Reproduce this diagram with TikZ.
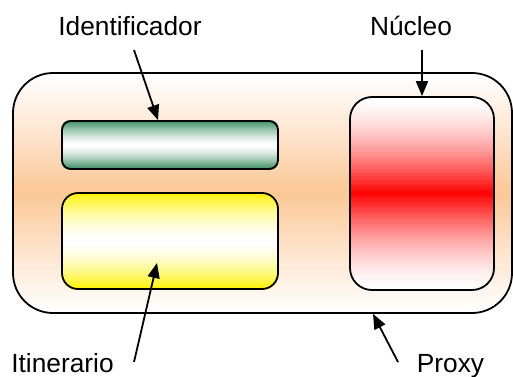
\documentclass[tikz,border=0pt]{standalone}
\usepackage{fontspec}
\setmainfont{Liberation Sans}
\usetikzlibrary{arrows.meta, calc, backgrounds}

\definecolor{peach}{RGB}{251,199,150}
\definecolor{seagreen}{RGB}{52,138,94}

% horizontal bands inside a rounded node: #3 mixed into #4 by weight #5 (0..100, of \tpos)
\newcommand{\bandfill}[5]{%
  \begin{scope}
    \clip[rounded corners=#2] (#1.south west) rectangle (#1.north east);
    \foreach \i in {0,...,79} {
      \pgfmathsetmacro\tpos{abs(2*(\i+0.5)/80-1)}
      \pgfmathsetmacro\wmix{#5}
      \fill[#3!\wmix!#4] ($(#1.south west)!{\i/80}!(#1.north west)$)
        rectangle ($(#1.south east)!{(\i+1.3)/80}!(#1.north east)$);
    }
  \end{scope}}

\begin{document}
\begin{tikzpicture}[x=1pt, y=1pt,
    every node/.style={font=\fontsize{26.3}{30}\selectfont},
    panel/.style={draw=black, line width=1.8pt, inner sep=0pt},
    pointer/.style={-{Triangle[length=15pt, width=12pt]}, line width=1.8pt}]
    \useasboundingbox (0,0) rectangle (513,376);

    % Proxy envelope and its parts
    \node[panel, rounded corners=40pt, minimum width=499pt, minimum height=240pt] (proxy) at (262.5,183) {};
    \node[panel, rounded corners=9pt, minimum width=216pt, minimum height=48pt] (idbar) at (170,231) {};
    \node[panel, rounded corners=16pt, minimum width=216pt, minimum height=96pt] (itbar) at (170,135) {};
    \node[panel, rounded corners=22pt, minimum width=144pt, minimum height=193pt] (core) at (422,182.5) {};

    % Gradient fills
    \begin{scope}[on background layer]
        \bandfill{proxy}{40pt}{peach}{white}{100*(1-\tpos)^1.1}
        \bandfill{idbar}{9pt}{seagreen}{white}{100*\tpos^1.4}
        \bandfill{itbar}{16pt}{yellow}{white}{100*\tpos^1.6}
        \bandfill{core}{22pt}{red}{white}{100*(1-\tpos)^1.6}
    \end{scope}

    % Labels
    \node[anchor=base] (lblid) at (130,341) {Identificador};
    \node[anchor=base] (lblcore) at (411,341) {Núcleo};
    \node[anchor=base] (lblit) at (62.5,4) {Itinerario};
    \node[anchor=base] (lblproxy) at (450.5,4) {Proxy};

    % Arrow tails
    \coordinate (idtail) at (134,326);
    \coordinate (coretail) at (422,326);
    \coordinate (ittail) at (134,14);
    \coordinate (proxytail) at (398,14);

    \draw[pointer] (idtail) -- ([xshift=-12pt]idbar.north);
    \draw[pointer] (coretail) -- (core.north);
    \draw[pointer] (ittail) -- ([shift={(-13pt,-22pt)}]itbar.center);
    \draw[pointer] (proxytail) -- ([xshift=110.5pt]proxy.south);
\end{tikzpicture}
\end{document}
